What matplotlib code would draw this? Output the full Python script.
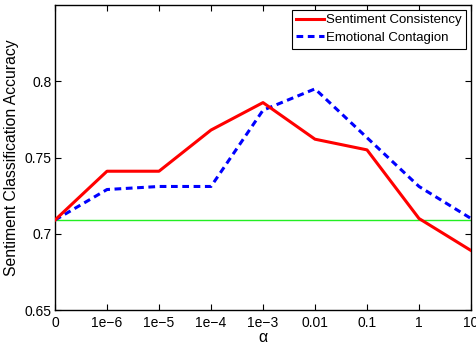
import matplotlib
matplotlib.use("Agg")
import matplotlib.pyplot as plt
import numpy as np

plt.rcParams['font.family'] = ['Liberation Sans', 'DejaVu Sans']

categories = ['0', '1e\u22126', '1e\u22125', '1e\u22124', '1e\u22123', '0.01', '0.1', '1', '10']
sentiment_consistency = [0.709, 0.741, 0.741, 0.768, 0.786, 0.762, 0.755, 0.710, 0.689]
emotional_contagion = [0.709, 0.729, 0.731, 0.731, 0.781, 0.795, 0.763, 0.731, 0.710]
baseline = 0.709
yticks = [0.65, 0.7, 0.75, 0.8]
ytick_labels = ['0.65', '0.7', '0.75', '0.8']

fig = plt.figure(figsize=(4.77, 3.45), dpi=100)
ax = fig.add_axes([55/477, 1 - 310/345, (471-55)/477, (310-5)/345])

x = np.arange(len(categories))
ax.axhline(baseline, color='#22ee22', lw=1.0, zorder=1)
ax.plot(x, sentiment_consistency, color='red', lw=2.2, label='Sentiment Consistency', zorder=3)
ax.plot(x, emotional_contagion, color='blue', lw=2.2, ls=(0, (2.2, 1.5)), label='Emotional Contagion', zorder=2)

ax.set_xlim(0, len(categories) - 1)
ax.set_ylim(0.65, 0.85)
ax.set_xticks(x)
ax.set_xticklabels(categories)
ax.set_yticks(yticks)
ax.set_yticklabels(ytick_labels)
ax.tick_params(direction='in', top=True, right=True, labelsize=10, length=4, width=0.8)
ax.tick_params(axis='y', pad=2.5)
ax.tick_params(axis='x', pad=4)
for s in ax.spines.values():
    s.set_linewidth(1.0)
ax.set_xlabel('\u03b1', fontsize=11.5, labelpad=0)
ax.set_ylabel('Sentiment Classification Accuracy', fontsize=11.3, labelpad=4)

leg = ax.legend(loc='upper right', fontsize=9.5, frameon=True, fancybox=False,
                edgecolor='black', framealpha=1, borderpad=0.35, handlelength=2.1,
                handletextpad=0.15, labelspacing=0.4, borderaxespad=0.35)
leg.get_frame().set_linewidth(0.8)

fig.savefig('out.png', dpi=100)
